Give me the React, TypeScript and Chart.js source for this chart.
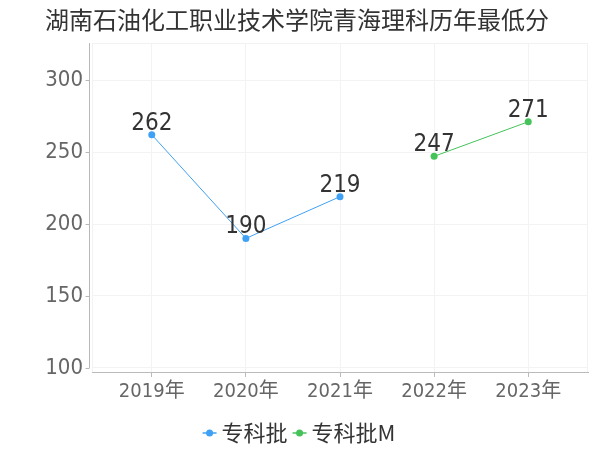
import { useEffect, useRef } from 'react';
import { Chart, registerables } from 'chart.js';
Chart.register(...registerables);

const title = '湖南石油化工职业技术学院青海理科历年最低分';
const categories = ['2019年', '2020年', '2021年', '2022年', '2023年'];
const seriesNames = ['专科批', '专科批M'];
const zhuanke: (number | null)[] = [262, 190, 219, null, null];
const zhuankeM: (number | null)[] = [null, null, null, 247, 271];
const yTicks = [100, 150, 200, 250, 300];
const colors = ['#3fa1f5', '#45c35a'];

const FONT = '"DejaVu Sans Condensed", "DejaVu Sans", "Noto Sans CJK SC", sans-serif';
const CJK = '"Noto Sans CJK SC", "DejaVu Sans", sans-serif';

const decor = {
  id: 'decor',
  beforeDatasetsDraw(chart: any) {
    const { ctx, chartArea: a, scales } = chart;
    const y = scales.y;
    ctx.save();
    ctx.strokeStyle = '#f2f2f2';
    ctx.lineWidth = 1;
    ctx.beginPath();
    ctx.moveTo(a.left, a.top + 0.5);
    ctx.lineTo(a.right, a.top + 0.5);
    ctx.moveTo(a.left + 0.5, a.top);
    ctx.lineTo(a.left + 0.5, a.bottom);
    ctx.moveTo(a.right - 0.5, a.top);
    ctx.lineTo(a.right - 0.5, a.bottom);
    ctx.stroke();
    const ax = Math.round(a.left - 3) + 0.5;
    const yb = y.getPixelForValue(yTicks[0]);
    ctx.strokeStyle = '#b8b8b8';
    ctx.beginPath();
    ctx.moveTo(ax, a.top);
    ctx.lineTo(ax, yb);
    yTicks.forEach((v) => {
      const py = Math.round(y.getPixelForValue(v)) + 0.5;
      ctx.moveTo(ax - 4, py);
      ctx.lineTo(ax, py);
    });
    ctx.stroke();
    ctx.restore();
  },
  afterDraw(chart: any) {
    const { ctx } = chart;
    ctx.save();
    ctx.fillStyle = '#333';
    ctx.font = `24px ${CJK}`;
    ctx.textAlign = 'center';
    ctx.textBaseline = 'middle';
    ctx.fillText(title, 297, 20);
    ctx.font = `24px ${FONT}`;
    ctx.textBaseline = 'alphabetic';
    ctx.fillStyle = '#333';
    chart.data.datasets.forEach((ds: any, di: number) => {
      const meta = chart.getDatasetMeta(di);
      meta.data.forEach((pt: any, i: number) => {
        const v = ds.data[i].y;
        if (v == null) return;
        ctx.fillText(String(v), pt.x, pt.y - 5);
      });
    });
    ctx.font = `22px ${CJK}`;
    const gap = 5;
    const mk = 14;
    const widths = seriesNames.map((n) => mk + gap + ctx.measureText(n).width);
    const total = widths.reduce((s, w) => s + w, 0) + 5 * (seriesNames.length - 1);
    let x = 299 - total / 2;
    const ly = 433;
    seriesNames.forEach((n, i) => {
      ctx.strokeStyle = colors[i];
      ctx.fillStyle = colors[i];
      ctx.lineWidth = 1.5;
      ctx.beginPath();
      ctx.moveTo(x, ly);
      ctx.lineTo(x + mk, ly);
      ctx.stroke();
      ctx.beginPath();
      ctx.arc(x + mk / 2, ly, 3.5, 0, Math.PI * 2);
      ctx.fill();
      ctx.fillStyle = '#333';
      ctx.textAlign = 'left';
      ctx.textBaseline = 'middle';
      ctx.fillText(n, x + mk + gap, ly);
      x += widths[i] + 5;
    });
    ctx.restore();
  },
};

export default function App() {
  const ref = useRef<HTMLCanvasElement>(null);
  useEffect(() => {
    if (!ref.current) return;
    const toXY = (arr: (number | null)[]) => arr.map((v, i) => ({ x: i, y: v }));
    const chart = new Chart(ref.current, {
      type: 'line',
      data: {
        datasets: [
          {
            label: seriesNames[0],
            data: toXY(zhuanke) as any,
            borderColor: colors[0],
            backgroundColor: colors[0],
            borderWidth: 1,
            pointRadius: 3.5,
            pointBorderWidth: 0,
            spanGaps: false,
          },
          {
            label: seriesNames[1],
            data: toXY(zhuankeM) as any,
            borderColor: colors[1],
            backgroundColor: colors[1],
            borderWidth: 1,
            pointRadius: 3.5,
            pointBorderWidth: 0,
            spanGaps: false,
          },
        ],
      },
      options: {
        animation: false,
        responsive: false,
        layout: { padding: { left: 0, top: 43, right: 12, bottom: 0 } },
        plugins: { legend: { display: false }, title: { display: false }, tooltip: { enabled: false } },
        scales: {
          x: {
            type: 'linear',
            min: -0.635,
            max: 4.635,
            afterBuildTicks: (s: any) => {
              s.ticks = categories.map((_, i) => ({ value: i }));
            },
            afterFit: (s: any) => {
              s.height = 78;
            },
            ticks: {
              callback: (v: any) => categories[v] ?? '',
              font: { size: 20, family: FONT },
              color: '#666',
              padding: 3,
              maxRotation: 0,
              autoSkip: false,
            },
            grid: { color: '#f3f3f3', tickColor: '#bbb', tickLength: 5 },
            border: { color: '#bbb' },
          },
          y: {
            min: 97.22,
            max: 325.7,
            afterBuildTicks: (s: any) => {
              s.ticks = yTicks.map((v) => ({ value: v }));
            },
            afterFit: (s: any) => {
              s.width = 92;
            },
            ticks: {
              font: { size: 22, family: FONT },
              color: '#666',
              padding: 9,
            },
            grid: { color: '#f3f3f3', drawTicks: false },
            border: { display: false },
          },
        },
      },
      plugins: [decor],
    });
    return () => chart.destroy();
  }, []);
  return (
    <div style={{ position: 'fixed', left: 0, top: 0, width: 600, height: 450, background: '#fff' }}>
      <canvas ref={ref} width={600} height={450} />
    </div>
  );
}
